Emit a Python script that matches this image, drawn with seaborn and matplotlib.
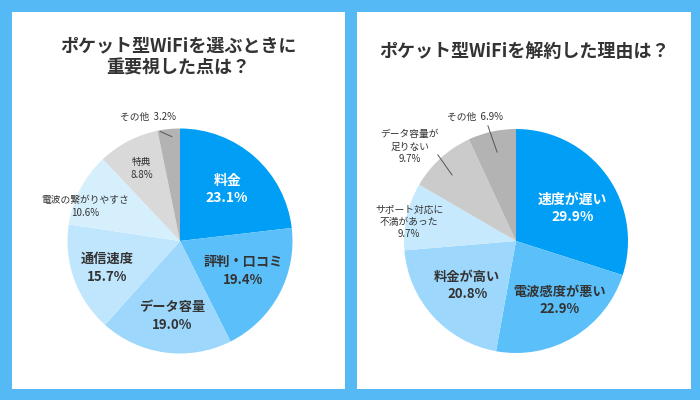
import numpy as np
import matplotlib
matplotlib.use("Agg")
import matplotlib.pyplot as plt
from matplotlib.patches import Rectangle
import seaborn as sns

# ---------------- data ----------------
left_title = "ポケット型WiFiを選ぶときに\n重要視した点は？"
left_labels = ["料金", "評判・口コミ", "データ容量", "通信速度", "電波の繋がりやすさ", "特典", "その他"]
left_values = [23.1, 19.4, 19.0, 15.7, 10.6, 8.8, 3.2]

right_title = "ポケット型WiFiを解約した理由は？"
right_labels = ["速度が遅い", "電波感度が悪い", "料金が高い", "サポート対応に\n不満があった", "データ容量が\n足りない", "その他"]
right_values = [29.9, 22.9, 20.8, 9.7, 9.7, 6.9]

# ---------------- style ----------------
sns.set_theme(style="white")
plt.rcParams["font.family"] = ["Noto Sans CJK JP", "DejaVu Sans"]

BG = "#55b9f6"
DARK = "#333333"
left_colors = ["#009ff5", "#5bbffa", "#9dd8fc", "#c0e6fd", "#d6effd", "#d9d9d9", "#b3b3b3"]
right_colors = ["#009ff5", "#5bbffa", "#9dd8fc", "#c6e9fd", "#cbcbcb", "#b3b3b3"]

# per-label layout: (radius factor, angle shift deg, fontsize, bold, color, inline)
left_layout = [
    (0.62, -1.0, 10, True, "white", False),
    (0.62, 2.5, 9.5, True, DARK, False),
    (0.67, 1.0, 9.5, True, DARK, False),
    (0.69, 0.0, 9.5, True, DARK, False),
    (0.90, 7.0, 7, False, DARK, False),
    (0.73, 0.0, 7, False, DARK, False),
    (1.14, 7.8, 7, False, DARK, True),
]
right_layout = [
    (0.58, -6.5, 10, True, "white", False),
    (0.66, 5.2, 9.5, True, DARK, False),
    (0.59, 0.0, 9.5, True, DARK, False),
    (0.97, 2.4, 7, False, DARK, False),
    (1.27, 5.7, 7, False, DARK, False),
    (1.17, 5.5, 7, False, DARK, True),
]
# leader lines: index -> ((r0, a0), (r1, a1))
left_leaders = {6: ((0.99, 100.3), (0.93, 94.4))}
right_leaders = {4: ((1.04, 132.2), (0.82, 134.1)), 5: ((1.06, 103.7), (0.81, 102.0))}

W, H = 700, 400
fig = plt.figure(figsize=(7, 4), dpi=100)
fig.patch.set_facecolor(BG)

# white panels
for (x0, x1) in [(12, 345), (357, 691)]:
    fig.add_artist(Rectangle((x0 / W, 11 / H), (x1 - x0) / W, 377 / H,
                             transform=fig.transFigure, facecolor="white",
                             edgecolor="none", zorder=0))


def polar(r, a):
    t = np.deg2rad(a)
    return r * np.cos(t), r * np.sin(t)


def draw_pie(cx, cy, R, labels, values, colors, layout, leaders):
    S = 170
    ax = fig.add_axes([(cx - S) / W, (H - cy - S) / H, 2 * S / W, 2 * S / H])
    ax.pie(values, colors=colors, startangle=90, counterclock=False, radius=1,
           wedgeprops=dict(linewidth=0, edgecolor="none"))
    ax.set_xlim(-S / R, S / R)
    ax.set_ylim(-S / R, S / R)
    ax.set_aspect("equal")
    ax.axis("off")
    ax.patch.set_alpha(0)
    cum = np.cumsum([0] + list(values))
    total = 100.0
    for i, (lab, v) in enumerate(zip(labels, values)):
        mid = 90 - (cum[i] + v / 2) / total * 360
        r, da, fs, bold, col, inline = layout[i]
        x, y = polar(r, mid + da)
        txt = f"{lab}  {v}%" if inline else f"{lab}\n{v}%"
        ax.text(x, y, txt, ha="center", va="center", fontsize=fs,
                fontweight="bold" if bold else "normal", color=col,
                linespacing=1.3, clip_on=False)
    for i, ((r0, a0), (r1, a1)) in leaders.items():
        x0, y0 = polar(r0, a0)
        x1, y1 = polar(r1, a1)
        ax.plot([x0, x1], [y0, y1], color="#555555", lw=0.7, clip_on=False)


draw_pie(180, 241, 112.5, left_labels, left_values, left_colors, left_layout, left_leaders)
draw_pie(516, 241, 112, right_labels, right_values, right_colors, right_layout, right_leaders)

fig.text(178.5 / W, 1 - 57 / H, left_title, ha="center", va="center",
         fontsize=13, fontweight="bold", color=DARK, linespacing=1.2)
fig.text(524 / W, 1 - 52 / H, right_title, ha="center", va="center",
         fontsize=13, fontweight="bold", color=DARK)

fig.savefig("out.png", dpi=100, facecolor=BG)
